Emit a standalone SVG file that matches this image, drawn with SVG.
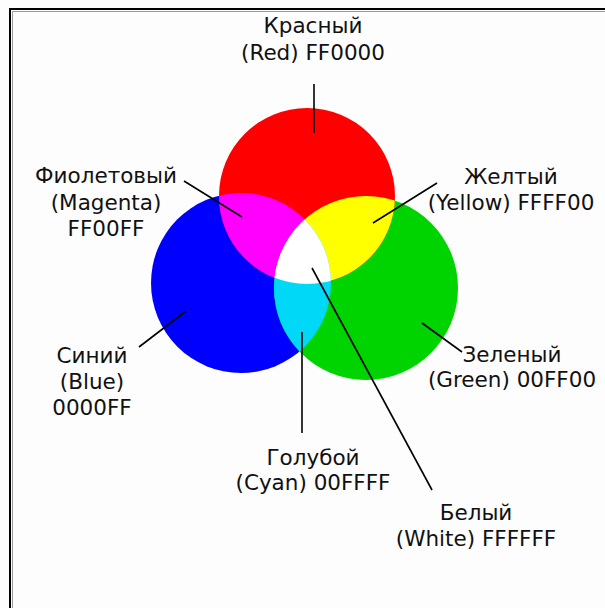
<svg xmlns="http://www.w3.org/2000/svg" width="605" height="608" viewBox="0 0 605 608">
<style>
.lbl{font-family:"DejaVu Sans","Liberation Sans",sans-serif;font-size:21.5px;fill:#111;text-anchor:middle}
.conn line{stroke:#000;stroke-width:1.6}
</style>
<defs>
<clipPath id="cBlue"><circle cx="241" cy="283" r="90"/></clipPath>
<clipPath id="cGreen"><circle cx="366" cy="288" r="92"/></clipPath>
</defs>
<rect width="605" height="608" fill="#fdfdfd"/>
<path d="M10,608 V9 H605" fill="none" stroke="#000" stroke-width="2"/>
<path d="M12.5,608 V11.5 H605" fill="none" stroke="#9a9a9a" stroke-width="1"/>

<g id="blue"><circle cx="241" cy="283" r="90" fill="#0000ff"/></g>
<g id="green"><circle cx="366" cy="288" r="92" fill="#00d400"/></g>
<g id="red"><circle cx="307" cy="196" r="88" fill="#ff0000"/></g>
<g id="magenta" clip-path="url(#cBlue)"><circle cx="307" cy="196" r="88" fill="#ff00ff"/></g>
<g id="yellow" clip-path="url(#cGreen)"><circle cx="307" cy="196" r="88" fill="#ffff00"/></g>
<g id="cyan" clip-path="url(#cGreen)"><circle cx="241" cy="283" r="90" fill="#00d8f8"/></g>
<g id="white" clip-path="url(#cGreen)"><g clip-path="url(#cBlue)"><circle cx="307" cy="196" r="88" fill="#ffffff"/></g></g>

<g id="connectors" class="conn">
<line x1="314" y1="84" x2="314" y2="133"/>
<line x1="184" y1="181" x2="242" y2="217"/>
<line x1="437" y1="183" x2="373" y2="223"/>
<line x1="139" y1="347" x2="186" y2="311"/>
<line x1="422" y1="323" x2="462" y2="352"/>
<line x1="302" y1="332" x2="302" y2="433"/>
<line x1="312" y1="268" x2="432" y2="490"/>
</g>

<g id="label-red" class="lbl"><text x="313" y="33">Красный</text><text x="313" y="60">(Red) FF0000</text></g>
<g id="label-magenta" class="lbl"><text x="106" y="183">Фиолетовый</text><text x="106" y="210">(Magenta)</text><text x="106" y="236">FF00FF</text></g>
<g id="label-yellow" class="lbl"><text x="511" y="184">Желтый</text><text x="511" y="210">(Yellow) FFFF00</text></g>
<g id="label-blue" class="lbl"><text x="92" y="363">Синий</text><text x="92" y="389">(Blue)</text><text x="92" y="415">0000FF</text></g>
<g id="label-green" class="lbl"><text x="512" y="362">Зеленый</text><text x="512" y="387">(Green) 00FF00</text></g>
<g id="label-cyan" class="lbl"><text x="313" y="465">Голубой</text><text x="313" y="490">(Cyan) 00FFFF</text></g>
<g id="label-white" class="lbl"><text x="476" y="520">Белый</text><text x="476" y="546">(White) FFFFFF</text></g>
</svg>
